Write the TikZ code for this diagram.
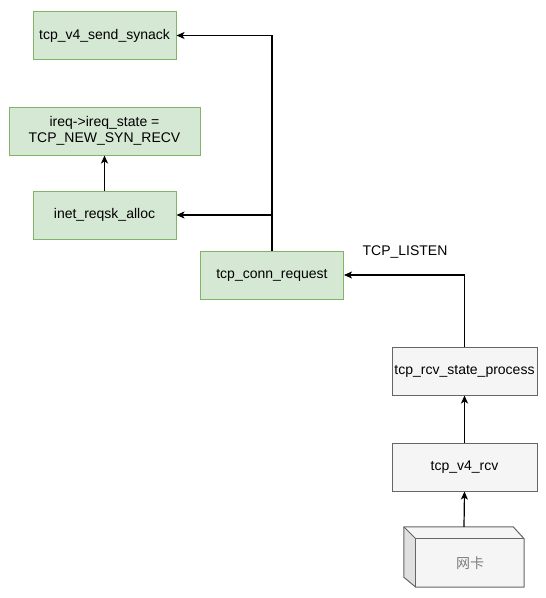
\documentclass[tikz,border=0pt]{standalone}
\usepackage{fontspec}
\setmainfont{Liberation Sans}
\newfontfamily\cjk{Noto Sans CJK SC}
\usetikzlibrary{arrows.meta,positioning,calc}
\definecolor{gfill}{HTML}{D5E8D4}
\definecolor{gline}{HTML}{82B366}
\definecolor{sfill}{HTML}{F5F5F5}
\definecolor{sline}{HTML}{666666}
\definecolor{sside}{HTML}{E0E0E0}

\begin{document}
\begin{tikzpicture}[
    x=1pt,y=-1pt,
    fn/.style={draw=gline,fill=gfill,line width=1pt,minimum width=143pt,minimum height=48pt,align=center,inner sep=1pt,font=\fontsize{14}{16.5}\selectfont},
    kfn/.style={draw=sline,fill=sfill,line width=1pt,minimum width=145pt,minimum height=48pt,align=center,inner sep=1pt,font=\fontsize{14}{16.5}\selectfont},
    arrow/.style={-{Stealth[length=8pt,width=7pt,inset=2pt]},line width=1.2pt,color=black},
    cubeline/.style={draw=sline,line width=1pt},
]
\useasboundingbox (0,0) rectangle (546,598);
\node[fn](synack)at(104.5,35.5){tcp\_v4\_send\_synack};
\node[fn,minimum width=191pt](state)at(104.5,131){ireq->ireq\_state =\\TCP\_NEW\_SYN\_RECV};
\node[fn](alloc)at(104.5,215){inet\_reqsk\_alloc};
\node[fn](conn)at(272,275){tcp\_conn\_request};
\node[kfn](rcvstate)at(464.5,371){tcp\_rcv\_state\_process};
\node[kfn](v4rcv)at(464.5,467){tcp\_v4\_rcv};
% nic drawn as a cube
\node[minimum width=120pt,minimum height=60pt,inner sep=0pt](nic)at(464,557){};
\fill[sfill](nic.north west)--([xshift=-11pt]nic.north east)--([yshift=-12pt]nic.north east)--(nic.south east)--([xshift=12pt]nic.south west)--([yshift=10pt]nic.south west)--cycle;
\fill[sside](nic.north west)--([xshift=12pt,yshift=-12pt]nic.north west)--([xshift=12pt]nic.south west)--([yshift=10pt]nic.south west)--cycle;
\draw[cubeline,line join=round](nic.north west)--([xshift=-11pt]nic.north east)--([yshift=-12pt]nic.north east)--(nic.south east)--([xshift=12pt]nic.south west)--([yshift=10pt]nic.south west)--cycle;
\draw[cubeline]([xshift=12pt]nic.south west)--([xshift=12pt,yshift=-12pt]nic.north west)--([yshift=-12pt]nic.north east);
\draw[cubeline](nic.north west)--([xshift=12pt,yshift=-12pt]nic.north west);
\node[text=sline!85,font=\cjk\fontsize{14}{16}\selectfont](nictext)at(470,563){网卡};
\node[font=\fontsize{14}{16.5}\selectfont](listen)at(405,252){TCP\_LISTEN};
\coordinate(split)at(conn.north|-alloc.east);
\draw[line width=1.2pt](conn.north)--(split);
\draw[arrow](split)|-(synack.east);
\draw[arrow](split)--(alloc.east);
\draw[arrow](alloc.north)--(state.south);
\draw[arrow](rcvstate.north)|-(conn.east);
\draw[arrow](v4rcv.north)--(rcvstate.south);
\draw[arrow](nic.north)--(v4rcv.south);
\end{tikzpicture}
\end{document}
